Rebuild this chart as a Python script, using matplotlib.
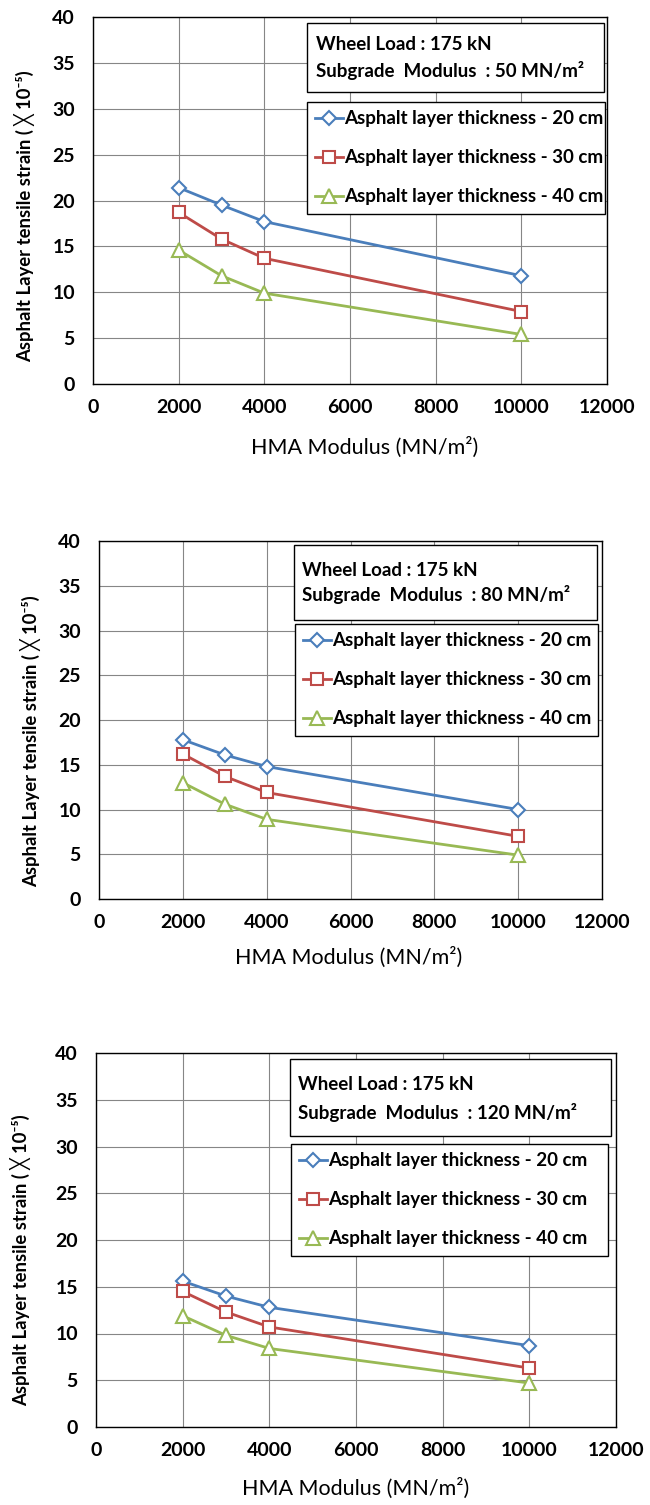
import matplotlib
matplotlib.use("Agg")
import matplotlib.pyplot as plt
from matplotlib.patches import Rectangle

plt.rcParams['font.family'] = ['Lato', 'DejaVu Sans']

W, H = 650, 1505

# data
hma = [2000, 3000, 4000, 10000]
labels = ["Asphalt layer thickness - 20 cm",
          "Asphalt layer thickness - 30 cm",
          "Asphalt layer thickness - 40 cm"]
subgrade = ["50", "80", "120"]

strain_50 = [[21.4, 19.5, 17.7, 11.8],
             [18.7, 15.8, 13.7, 7.9],
             [14.6, 11.8, 9.9, 5.4]]
strain_80 = [[17.8, 16.1, 14.8, 10.0],
             [16.2, 13.7, 11.9, 7.0],
             [13.0, 10.6, 8.9, 4.9]]
strain_120 = [[15.6, 14.0, 12.8, 8.7],
              [14.5, 12.3, 10.7, 6.3],
              [11.9, 9.8, 8.4, 4.7]]

xticks = [0, 2000, 4000, 6000, 8000, 10000, 12000]
yticks = [0, 5, 10, 15, 20, 25, 30, 35, 40]

colors = ['#4A7EBB', '#BE4B48', '#98B954']
markers = ['D', 's', '^']
msizes = [7.5, 9, 10]

# layout in pixels: axes (left, top, right, bottom), info box, legend box, text rows
panels = [
    dict(ax=(93, 17, 607, 384), info=(307, 23, 604, 92), info_rows=(45, 71), info_x=316,
         leg=(307, 102, 605, 215), ylab=(25, 216), xlab=(365, 447), data=strain_50),
    dict(ax=(99, 541, 602, 899), info=(294, 545, 597, 620), info_rows=(570, 594), info_x=302,
         leg=(295, 624, 598, 736), ylab=(31, 741), xlab=(349, 957), data=strain_80),
    dict(ax=(96, 1053, 616, 1427), info=(290, 1059, 611, 1136), info_rows=(1085, 1112), info_x=298,
         leg=(291, 1144, 608, 1260), ylab=(21, 1260), xlab=(356, 1488), data=strain_120),
]


def fx(x):
    return x / W


def fy(y):
    return 1 - y / H


fig = plt.figure(figsize=(6.5, 15.05), dpi=100)

for p, sub in zip(panels, subgrade):
    l, t, r, b = p['ax']
    ax = fig.add_axes([fx(l), fy(b), fx(r) - fx(l), fy(t) - fy(b)])
    ax.set_xlim(0, 12000)
    ax.set_ylim(0, 40)
    ax.set_xticks(xticks)
    ax.set_yticks(yticks)
    ax.tick_params(length=0, labelsize=14, pad=11)
    ax.tick_params(axis='y', pad=13)
    for lab in ax.get_xticklabels() + ax.get_yticklabels():
        lab.set_fontweight('bold')
    ax.grid(True, color='#868686', lw=0.8)
    ax.set_axisbelow(True)
    for s in ax.spines.values():
        s.set_linewidth(1.0)
        s.set_color('black')

    handles = []
    for series, c, m, ms, lab in zip(p['data'], colors, markers, msizes, labels):
        h, = ax.plot(hma, series, color=c, lw=2.0, marker=m, ms=ms,
                     mfc='white', mec=c, mew=1.5, label=lab, clip_on=False)
        handles.append(h)

    # info box
    il, it, ir, ib = p['info']
    fig.add_artist(Rectangle((fx(il), fy(ib)), fx(ir) - fx(il), fy(it) - fy(ib),
                             transform=fig.transFigure, fc='white', ec='black', lw=1.0))
    fig.text(fx(p['info_x']), fy(p['info_rows'][0]), "Wheel Load : 175 kN",
             fontsize=13.5, fontweight='bold', va='center', ha='left')
    fig.text(fx(p['info_x']), fy(p['info_rows'][1]),
             "Subgrade  Modulus  : " + sub + " MN/m\u00b2",
             fontsize=13.5, fontweight='bold', va='center', ha='left')

    # legend
    ll, lt, lr, lb = p['leg']
    leg = fig.legend(handles=handles, loc='upper left',
                     bbox_to_anchor=(fx(ll), fy(lt), fx(lr) - fx(ll), 0),
                     bbox_transform=fig.transFigure, mode='expand',
                     borderaxespad=0, borderpad=0.45, labelspacing=1.17,
                     handlelength=1.45, handletextpad=0.1, fancybox=False,
                     framealpha=1, edgecolor='black',
                     prop={'size': 13.5, 'weight': 'bold'})
    leg.get_frame().set_linewidth(1.0)

    # axis titles
    fig.text(fx(p['xlab'][0]), fy(p['xlab'][1]), "HMA Modulus (MN/m\u00b2)",
             fontsize=15.5, ha='center', va='center')
    fig.text(fx(p['ylab'][0]), fy(p['ylab'][1]),
             "Asphalt Layer tensile strain ( \u2573 10\u207b\u2075)",
             fontsize=13.3, fontweight='bold', rotation=90, ha='center', va='center')

fig.savefig("out.png", dpi=100)
